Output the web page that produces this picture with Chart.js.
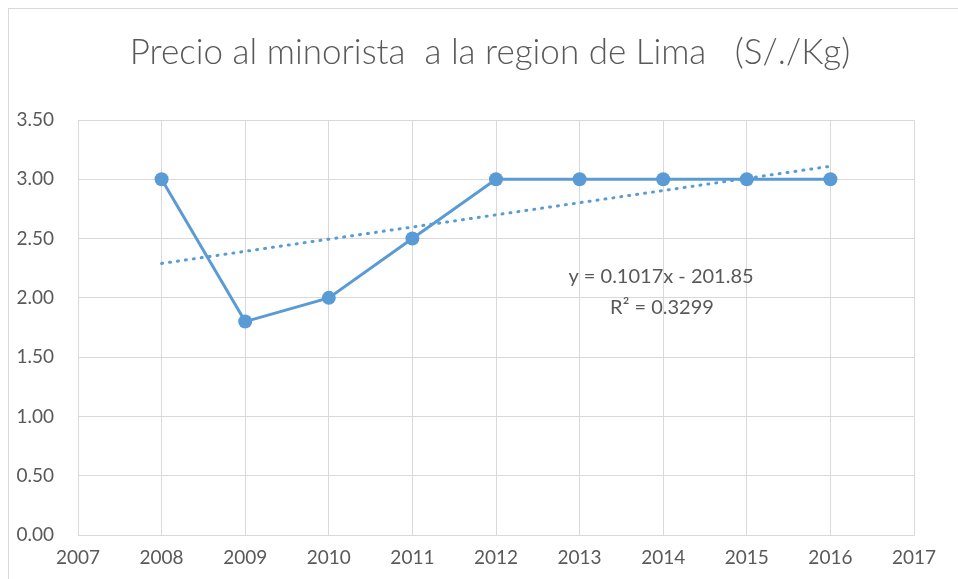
<!DOCTYPE html>
<html><head><meta charset="utf-8">
<script src="https://cdn.jsdelivr.net/npm/chart.js@4/dist/chart.umd.min.js"></script>
<style>
html,body{margin:0;padding:0;background:#fff;}
#wrap{position:relative;width:958px;height:579px;overflow:hidden;}
#frame{position:absolute;left:8px;top:8px;width:960px;height:600px;border:1px solid #d9d9d9;border-right:none;box-sizing:border-box;}
canvas{position:absolute;left:0;top:0;}
</style></head>
<body><div id="wrap"><div id="frame"></div><canvas id="c" width="958" height="579"></canvas></div>
<script>
const titleText = 'Precio al minorista  a la region de Lima   (S/./Kg)';
const years = [2008, 2009, 2010, 2011, 2012, 2013, 2014, 2015, 2016];
const prices = [3.00, 1.80, 2.00, 2.50, 3.00, 3.00, 3.00, 3.00, 3.00];
const trendYears = [2008, 2016];
const trendValues = [2.29, 3.11];
const equationLines = ['y = 0.1017x - 201.85', 'R\u00B2 = 0.3299'];
const xMin = 2007, xMax = 2017;
const yMin = 0, yMax = 3.5, yStep = 0.5;

const textColor = '#595959';
const blue = '#5B9BD5';
const fontFamily = 'Lato, "Open Sans", sans-serif';

const extras = {
  id: 'extras',
  afterDraw(chart) {
    const ctx = chart.ctx;
    ctx.save();
    ctx.fillStyle = textColor;
    ctx.textAlign = 'center';
    ctx.textBaseline = 'middle';
    ctx.font = '300 35px ' + fontFamily;
    ctx.fillText(titleText, 490, 53);
    ctx.font = '20px ' + fontFamily;
    ctx.fillText(equationLines[0], 661, 277);
    ctx.fillText(equationLines[1], 662, 308);
    ctx.restore();
  }
};

new Chart(document.getElementById('c'), {
  type: 'scatter',
  data: {
    datasets: [
      {
        data: years.map((x, i) => ({x, y: prices[i]})),
        showLine: true,
        borderColor: blue,
        backgroundColor: blue,
        borderWidth: 3,
        pointRadius: 7,
        pointHoverRadius: 7,
        pointBorderWidth: 0,
        order: 1
      },
      {
        data: trendYears.map((x, i) => ({x, y: trendValues[i]})),
        showLine: true,
        borderColor: blue,
        borderWidth: 3,
        borderDash: [1, 7],
        borderCapStyle: 'round',
        pointRadius: 0,
        order: 2
      }
    ]
  },
  options: {
    responsive: false,
    animation: false,
    events: [],
    layout: { padding: { left: 0, right: 44, top: 120, bottom: 0 } },
    plugins: { legend: { display: false }, tooltip: { enabled: false }, title: { display: false } },
    scales: {
      x: {
        type: 'linear', min: xMin, max: xMax,
        ticks: { stepSize: 1, color: textColor, font: { size: 19, family: fontFamily }, padding: 11, callback: v => String(v) },
        grid: { color: '#d9d9d9', lineWidth: 1, drawTicks: false },
        border: { color: '#d9d9d9' },
        afterFit(s) { s.height = 44; }
      },
      y: {
        min: yMin, max: yMax,
        ticks: { stepSize: yStep, color: textColor, font: { size: 19, family: fontFamily }, padding: 24, callback: v => Number(v).toFixed(2) },
        grid: { color: '#d9d9d9', lineWidth: 1, drawTicks: false },
        border: { color: '#d9d9d9' },
        afterFit(s) { s.width = 78; }
      }
    }
  },
  plugins: [extras]
});
</script></body></html>
